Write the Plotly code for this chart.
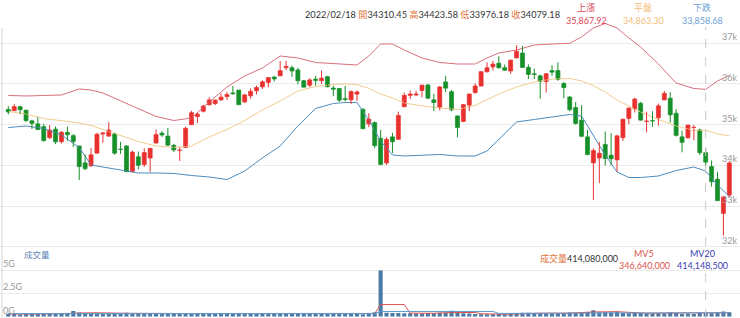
import plotly.graph_objects as go

# ---------------- data ----------------
opens = [35374, 35342, 35441, 35355, 35094, 35020, 34950, 34680, 34890, 34580, 34810, 34730, 34475, 34060, 33990, 34300, 34770, 34720, 34770, 34400, 34475,
         33850, 34210, 34020, 34180, 34550, 34790, 34720, 34490, 34370, 34440, 35000, 35200, 35330, 35490, 35520, 35610, 35690, 35780, 35850, 35560, 35710,
         35833, 35930, 36040, 36170, 36200, 36400, 36400, 36345, 36080, 35970, 36120, 36080, 36180, 35900, 35890, 35640, 35610, 35750, 35380, 35020, 35050,
         34665, 34060, 34700, 34640, 35440, 35720, 35730, 35840, 35975, 35610, 35430, 36050, 35810, 35215, 35080, 35480, 35790, 35950, 36300, 36420, 36510, 36400,
         36320, 36640, 36760, 36410, 36250, 36200, 36060, 36330, 36330, 36010, 35680, 35420, 35110, 34700, 34060, 34180, 34515, 34250, 34135, 34680,
         35155, 35390, 35525, 35080, 35100, 35170, 35610, 35650, 35280, 34700, 34680, 34930, 34870, 34310.45, 33970, 33660, 32820, 33270]
highs = [35455, 35509, 35465, 35365, 35122, 35185, 35020, 34990, 34960, 34840, 34950, 34770, 34480, 34270, 34430, 34800, 34818, 35060, 34800, 34580, 34500,
         34360, 34340, 34420, 34430, 34880, 34843, 34920, 34530, 34440, 34950, 35340, 35300, 35490, 35670, 35620, 35765, 35800, 35950, 35850, 35760, 35890,
         35960, 36090, 36160, 36200, 36565, 36570, 36450, 36400, 36100, 36140, 36200, 36330, 36200, 35960, 35900, 35950, 35840, 35840, 35400, 35280, 35080,
         34870, 34690, 34800, 35320, 35790, 35840, 35830, 35980, 36000, 35760, 35950, 36200, 35850, 35220, 35510, 35760, 36020, 36310, 36530, 36570, 36680, 36480,
         36600, 36950, 36935, 36480, 36380, 36230, 36260, 36460, 36530, 36050, 35700, 35560, 35480, 34870, 34420, 34580, 34830, 34790, 34750, 35150,
         35430, 35660, 35560, 35320, 35330, 35520, 35830, 35800, 35380, 34850, 35000, 34990, 34900, 34423.58, 34120, 33840, 33250, 34100]
lows = [35254, 35338, 35262, 35068, 34895, 34870, 34586, 34650, 34520, 34540, 34600, 34450, 33640, 33880, 33960, 34290, 34560, 34700, 34260, 34280, 33840,
        33830, 33900, 33960, 33840, 34530, 34700, 34480, 34330, 34110, 34440, 34990, 35040, 35300, 35470, 35480, 35590, 35610, 35740, 35490, 35530, 35640,
        35740, 35880, 35920, 36060, 36200, 36340, 36170, 35990, 35920, 35920, 35960, 36000, 35920, 35700, 35560, 35570, 35510, 35580, 34900, 34940, 34420,
        34000, 34010, 34300, 34640, 35440, 35630, 35700, 35670, 35630, 35330, 35350, 35800, 35330, 34690, 35060, 35330, 35760, 35940, 36280, 36330, 36380, 36320,
        36250, 36640, 36400, 36120, 36120, 35640, 35790, 36200, 36080, 35650, 35330, 35000, 34690, 34250, 33150, 33560, 34000, 34000, 33845, 34600,
        35010, 35300, 35100, 34810, 34950, 34980, 35600, 35050, 34710, 34320, 34650, 34620, 34250, 33976.18, 33480, 33130, 32272, 33210]
closes = [35312, 35443, 35369, 35100, 35031, 34879, 34607, 34869, 34577, 34814, 34751, 34584, 33970, 33919, 34258, 34764, 34798, 34869, 34299, 34390, 33843,
          34326, 34002, 34314, 34416, 34754, 34746, 34496, 34378, 34378, 34912, 35294, 35258, 35457, 35609, 35603, 35677, 35741, 35757, 35490, 35730, 35819,
          35913, 36052, 36157, 36124, 36327, 36432, 36320, 36080, 35921, 36100, 36087, 36142, 35931, 35871, 35602, 35619, 35814, 35804, 34899, 35136, 34484,
          34022, 34640, 34580, 35227, 35719, 35754, 35755, 35971, 35651, 35544, 35927, 35898, 35365, 34932, 35492, 35754, 35951, 36302, 36398, 36489, 36398, 36338,
          36585, 36800, 36407, 36236, 36232, 36069, 36252, 36290, 36114, 35912, 35368, 35029, 34715, 34265, 34364, 34298, 34168, 34161, 34725, 35132,
          35405, 35629, 35111, 35090, 35091, 35463, 35768, 35242, 34738, 34566, 34989, 34934, 34312, 34079.18, 33597, 33132, 33224, 34059]

# volume in millions of shares
volumes = [300, 280, 240, 330, 310, 300, 320, 330, 350, 340, 360, 620, 450, 380, 360, 320, 300, 340, 400, 360, 410,
           380, 390, 350, 370, 340, 300, 310, 320, 330, 360, 380, 330, 320, 330, 350, 320, 310, 330, 360, 350, 400,
           340, 350, 330, 320, 360, 340, 330, 340, 320, 300, 330, 320, 310, 320, 400, 340, 330, 300, 250, 370, 480,
           4950, 420, 400, 390, 380, 360, 340, 330, 390, 380, 420, 410, 640, 420, 380, 350, 300, 250, 260, 270, 280, 250,
           350, 400, 420, 410, 350, 400, 360, 340, 350, 380, 450, 430, 470, 500, 700, 480, 500, 480, 529.8, 420,
           380, 400, 390, 350, 340, 360, 340, 480, 400, 300, 320, 300, 399.12, 414.08, 380, 390, 560, 470]

# Bollinger band lines read at sample candles
band_idx = [0, 3, 6, 9, 12, 14, 16, 19, 22, 25, 28, 31, 34, 37, 40, 43, 46, 49, 52, 55, 57, 59, 61, 63, 65, 67, 70, 73, 76, 79, 81, 83,
            86, 89, 92, 95, 97, 99, 101, 103, 105, 107, 110, 113, 116, 118, 120, 122]
band_upper = [35717, 35705, 35717, 35729, 35877, 35852, 35778, 35582, 35385, 35201, 35102, 35164, 35557, 35926, 36196, 36393, 36688, 36639,
              36528, 36503, 36491, 36467, 36688, 36983, 36983, 36835, 36639, 36528, 36491, 36491, 36639, 36762, 36835, 36958, 36983, 37000,
              37155, 37376, 37487, 37376, 37130, 36909, 36491, 36024, 35889, 35867.92, 36073, 36209]
band_mid = [35324, 35262, 35152, 35090, 35041, 34979, 34881, 34721, 34586, 34476, 34439, 34476, 34697, 34881, 35102, 35360, 35582, 35828,
            35938, 35987, 36000, 35987, 35894, 35754, 35655, 35533, 35459, 35410, 35373, 35471, 35606, 35754, 35926, 36049, 36122, 36135,
            36073, 35963, 35803, 35606, 35459, 35311, 35127, 34967, 34857, 34863.30, 34771, 34726]
band_lower = [34930, 34967, 34906, 34746, 34439, 34009, 33959, 33886, 33812, 33812, 33800, 33750, 33714, 33652, 33861, 34181, 34476, 34967,
              35397, 35520, 35545, 35545, 35115, 34598, 34254, 34230, 34254, 34267, 34230, 34230, 34353, 34648, 35066, 35127, 35188, 35250,
              35213, 34746, 34254, 33837, 33701, 33701, 33738, 33873, 33959, 33858.68, 33517, 33234]

# volume moving averages (millions) read at sample candles
mv5_idx = [0, 4, 11, 12, 15, 16, 20, 30, 40, 50, 55, 60, 62, 63, 67, 68, 72, 75, 79, 80, 84, 90, 95, 99, 103, 108, 113, 118, 122]
mv5_val = [300, 290, 360, 400, 420, 400, 370, 340, 340, 330, 330, 330, 350, 1300, 1300, 380, 370, 450, 450, 320, 260, 380, 380, 510, 540,
           370, 390, 346.64, 440]
mv20_idx = [0, 12, 31, 50, 62, 63, 82, 83, 95, 105, 113, 118, 122]
mv20_val = [330, 340, 370, 340, 335, 560, 560, 350, 380, 440, 420, 414.1485, 430]

price_ticks = [32000, 33000, 34000, 35000, 36000, 37000]
price_tick_text = ["32k", "33k", "34k", "35k", "36k", "37k"]
vol_ticks = [0, 2500, 5000]
vol_tick_text = ["0G", "2.5G", "5G"]
hover_index = 118

# ---------------- styling ----------------
UP = "#e8312f"
DOWN = "#17902a"
FONT = "Lato, 'Noto Sans CJK TC', sans-serif"
W, H = 740, 318

def px_x(p):
    return p / W

def px_y(p):
    return 1 - p / H

idx = list(range(len(closes)))
colors = [UP if c >= o else DOWN for o, c in zip(opens, closes)]

fig = go.Figure()

# bands
fig.add_trace(go.Scatter(x=band_idx, y=band_upper, mode="lines", line=dict(color="#d9707e", width=1), hoverinfo="skip"))
fig.add_trace(go.Scatter(x=band_idx, y=band_mid, mode="lines", line=dict(color="#f2cc8f", width=1), hoverinfo="skip"))
fig.add_trace(go.Scatter(x=band_idx, y=band_lower, mode="lines", line=dict(color="#4d8cbf", width=1), hoverinfo="skip"))

# wicks
for col in (UP, DOWN):
    wx, wy = [], []
    for i, (h, l, c) in enumerate(zip(highs, lows, colors)):
        if c == col:
            wx += [i, i, None]
            wy += [l, h, None]
    fig.add_trace(go.Scatter(x=wx, y=wy, mode="lines", line=dict(color=col, width=1), hoverinfo="skip"))

# bodies
fig.add_trace(go.Bar(
    x=idx,
    y=[max(abs(c - o), 1) for o, c in zip(opens, closes)],
    base=[min(o, c) for o, c in zip(opens, closes)],
    width=0.68,
    marker=dict(color=colors, line=dict(color=colors, width=0.7)),
    hoverinfo="skip",
))

# volume
fig.add_trace(go.Bar(x=idx, y=volumes, width=0.7, yaxis="y2",
                     marker=dict(color="#4c7aa6", line=dict(width=0)), hoverinfo="skip"))
fig.add_trace(go.Scatter(x=mv5_idx, y=mv5_val, yaxis="y2", mode="lines",
                         line=dict(color="#d9534f", width=1), hoverinfo="skip"))
fig.add_trace(go.Scatter(x=mv20_idx, y=mv20_val, yaxis="y2", mode="lines",
                         line=dict(color="#5a9bd0", width=1), hoverinfo="skip"))

x_lo = -8.3 / 5.91
x_hi = (W - 8.3) / 5.91
main_bottom = 250
main_lo = 37000 - (main_bottom - 43.3) / 0.04068
main_hi = 37000 + 43.3 / 0.04068
vol_zero_px = 316.7
vol_hi = (vol_zero_px - main_bottom) / 9.33 * 1000

axis_font = dict(family=FONT, size=9, color="#999999")

fig.update_layout(
    width=W, height=H,
    margin=dict(l=0, r=0, t=0, b=0),
    paper_bgcolor="white", plot_bgcolor="white",
    showlegend=False, hovermode=False,
    barmode="overlay",
    font=dict(family=FONT),
    xaxis=dict(range=[x_lo, x_hi], showticklabels=False, showgrid=False, zeroline=False, showline=False, ticks=""),
    yaxis=dict(domain=[px_y(main_bottom), 1], range=[main_lo, main_hi], side="right",
               tickvals=price_ticks, ticktext=price_tick_text, ticklabelposition="inside top",
               tickfont=axis_font, gridcolor="#ebebeb", gridwidth=1, zeroline=False, showline=False, ticks=""),
    yaxis2=dict(domain=[px_y(vol_zero_px), px_y(main_bottom)], range=[0, vol_hi], side="left", anchor="x",
                tickvals=vol_ticks, ticktext=vol_tick_text, ticklabelposition="inside top",
                tickfont=axis_font, gridcolor="#ebebeb", gridwidth=1, zeroline=False, showline=False, ticks=""),
)

# crosshair and left border
fig.add_shape(type="line", xref="x", yref="paper", x0=hover_index, x1=hover_index, y0=0, y1=px_y(27),
              line=dict(color="#c8c8c8", width=1, dash="dash"))
fig.add_shape(type="line", xref="paper", yref="paper", x0=px_x(2), x1=px_x(2), y0=0, y1=px_y(28),
              line=dict(color="#d6d6d6", width=1))

ann = []
OR = "#e0743a"
head = (f"2022/02/18 <span style='color:{OR}'>開</span>{opens[hover_index]:.2f} "
        f"<span style='color:{OR}'>高</span>{highs[hover_index]:.2f} "
        f"<span style='color:{OR}'>低</span>{lows[hover_index]:.2f} "
        f"<span style='color:{OR}'>收</span>{closes[hover_index]:.2f}")
ann.append(dict(x=px_x(303), y=px_y(15), text=head, xanchor="left", yanchor="middle",
                font=dict(size=9.2, color="#333333")))
for cx, lab, val, col in [(586, "上漲", band_upper[band_idx.index(hover_index)], "#d94452"),
                          (643, "平盤", band_mid[band_idx.index(hover_index)], "#f3c07a"),
                          (702, "下跌", band_lower[band_idx.index(hover_index)], "#6d9fd6")]:
    ann.append(dict(x=px_x(cx), y=px_y(8), text=lab, xanchor="center", yanchor="middle",
                    font=dict(size=9, color=col)))
    ann.append(dict(x=px_x(cx), y=px_y(21), text=f"{val:,.2f}", xanchor="center", yanchor="middle",
                    font=dict(size=9, color=col)))

ann.append(dict(x=px_x(22), y=px_y(255), text="成交量", xanchor="left", yanchor="middle",
                font=dict(size=8.5, color="#5b7fb5")))
vol_h = volumes[hover_index] * 1e6
ann.append(dict(x=px_x(538), y=px_y(258),
                text=f"<span style='color:{OR}'>成交量</span>{vol_h:,.0f}",
                xanchor="left", yanchor="middle", font=dict(size=9, color="#333333")))
ann.append(dict(x=px_x(644), y=px_y(253), text="MV5", xanchor="center", yanchor="middle",
                font=dict(size=9, color="#d9534f")))
ann.append(dict(x=px_x(644), y=px_y(265), text=f"{mv5_val[mv5_idx.index(hover_index)] * 1e6:,.0f}",
                xanchor="center", yanchor="middle", font=dict(size=9, color="#d9534f")))
ann.append(dict(x=px_x(702), y=px_y(253), text="MV20", xanchor="center", yanchor="middle",
                font=dict(size=9, color="#3c3cb0")))
ann.append(dict(x=px_x(702), y=px_y(265), text=f"{mv20_val[mv20_idx.index(hover_index)] * 1e6:,.0f}",
                xanchor="center", yanchor="middle", font=dict(size=9, color="#3c3cb0")))

for a in ann:
    a.update(xref="paper", yref="paper", showarrow=False)
fig.update_layout(annotations=ann)

fig.write_html("out.html")
